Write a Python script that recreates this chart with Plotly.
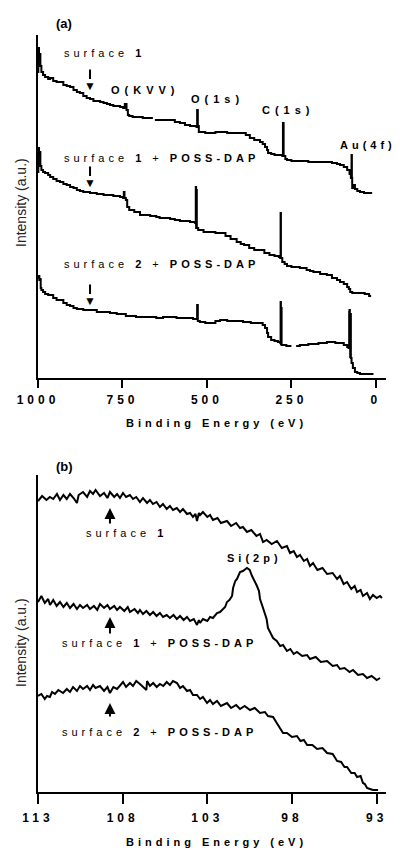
import plotly.graph_objects as go

# ---------------- Panel (a): survey spectra ----------------
a_s1_be = [1000, 999, 997, 995, 993, 990, 985, 979, 970, 964, 955, 945, 935, 925, 915, 905, 895, 885, 876, 866,
           856, 846, 836, 826, 816, 806, 796, 787, 777, 767, 757, 748, 743, 738, 734, 730, 720, 710, 698, 690,
           680, 668, 660, 657, 654, 640, 625, 609, 595, 580, 565, 550, 541, 531, 529, 527, 524, 505, 491, 475,
           461, 440, 420, 393, 385, 373, 360, 343, 335, 328, 322, 319, 310, 300, 290, 277, 275, 273, 268, 263,
           250, 225, 200, 180, 160, 145, 130, 115, 106, 95, 85, 78, 74, 72, 71, 70, 66, 62, 55, 47, 35, 20, 11]
a_s1_int = [306, 330, 320, 324, 312, 306, 303, 301, 299, 300, 297, 296, 296, 293, 292, 291, 288, 286, 285, 282,
            280, 279, 277, 277, 276, 275, 274, 273, 272, 272, 271, 270, 274, 268, 263, 262, 261, 261, 261, 260,
            260, 260, 260, None, 258, 258, 258, 258, 256, 255, 253, 252, 252, 251, 268, 252, 246, 245, 245, 246,
            246, 245, 245, 245, 243, 240, 238, 236, 234, 231, 228, 225, 224, 223, 223, 222, 255, 222, 219, 218,
            217, 217, 216, 216, 216, 216, 215, 214, 213, 211, 208, 204, 200, 223, 200, 190, 193, 189, 187, 186, 185, 185, 185]

a_s1p_be = [1000, 999, 997, 995, 993, 990, 985, 979, 970, 964, 955, 945, 935, 925, 915, 905, 895, 885, 876, 866,
            856, 846, 836, 826, 816, 806, 796, 787, 777, 767, 757, 748, 746, 744, 740, 736, 730, 715, 698, 685,
            668, 650, 640, 625, 609, 595, 580, 565, 550, 541, 535, 533, 532, 531, 530, 526, 510, 491, 475, 461,
            445, 430, 412, 400, 390, 375, 360, 343, 330, 315, 300, 287, 283, 282, 281, 277, 270, 263, 250, 240,
            225, 205, 195, 185, 165, 145, 130, 115, 106, 95, 85, 80, 76, 70, 60, 45, 33, 26, 20, 17]
a_s1p_int = [206, 230, 222, 226, 212, 208, 206, 205, 203, 201, 199, 197, 196, 194, 193, 191, 190, 188, 187, 186,
             186, 185, 185, 184, 184, 183, 183, 183, 182, 182, 181, 180, 186, 180, 178, 171, 168, 166, 163, 163,
             162, 161, 160, 160, 159, 158, 157, 157, 156, 156, 155, 191, 150, 188, 150, 148, 146, 146, 145, 145,
             142, 139, 136, 134, 133, 130, 128, 128, 125, 123, 122, 121, 120, 165, 120, 116, 114, 112, 111, 111,
             110, 108, 107, 106, 104, 103, 100, 98, 96, 94, 91, 89, 86, 85, 85, 85, 84, 84, 82, 81]

a_s2p_be = [1000, 998, 996, 994, 992, 990, 985, 979, 970, 964, 955, 945, 935, 925, 915, 905, 895, 885, 876, 866,
            846, 826, 806, 787, 767, 757, 740, 728, 710, 698, 680, 668, 650, 630, 609, 590, 570, 550, 541, 531,
            529, 527, 521, 505, 491, 475, 461, 440, 420, 393, 370, 343, 335, 328, 322, 319, 310, 300, 290, 283,
            282, 281, 280, 279, 275, 265, 255, 250, 243, 236, 225, 200, 170, 145, 120, 106, 95, 85, 81, 79,
            78, 77, 76, 75, 74, 72, 68, 62, 55, 47, 30, 10]
a_s2p_int = [100, 102, 98, 99, 90, 88, 86, 84, 83, 83, 80, 78, 78, 75, 73, 72, 70, 69, 69, 68,
             68, 66, 66, 65, 64, 64, 62, 62, 61, 61, 61, 61, 60, 61, 61, 60, 60, 60, 59, 59,
             73, 57, 56, 55, 55, 57, 58, 57, 57, 56, 55, 55, 53, 50, 45, 41, 38, 37, 36, 35,
             76, 34, 70, 33, 33, 32, 32, 32, None, 32, 33, 34, 35, 36, 35, 35, 33, 31, 30, 66,
             68, 40, 21, 64, 20, 15, 10, 6, 5, 4, 4, 3]

a_ticks = [1000, 750, 500, 250, 0]

# ---------------- Panel (b): Si(2p) region ----------------
b_s1_be = [113.0, 112.76, 112.5, 112.3, 112.1, 111.88, 111.7, 111.5, 111.3, 111.11, 110.9, 110.7, 110.6, 110.34,
           110.1, 109.93, 109.75, 109.6, 109.34, 109.1, 108.9, 108.75, 108.5, 108.33, 108.16, 107.98, 107.8,
           107.57, 107.39, 107.2, 106.98, 106.8, 106.56, 106.39, 106.21, 106.0, 105.8, 105.62, 105.4, 105.21,
           105.03, 104.8, 104.61, 104.44, 104.2, 104.02, 103.85, 103.7, 103.61, 103.5, 103.43, 103.26, 103.0,
           102.84, 102.67, 102.4, 102.2, 101.84, 101.6, 101.3, 101.07, 100.9, 100.66, 100.4, 100.1, 99.89, 99.71,
           99.5, 99.2, 98.89, 98.6, 98.3, 98.12, 97.9, 97.71, 97.53, 97.3, 97.11, 96.94, 96.76, 96.5, 96.2,
           95.93, 95.6, 95.34, 95.17, 94.95, 94.75, 94.5, 94.3, 94.16, 93.95, 93.81, 93.57, 93.4, 93.22, 93.0,
           92.8, 92.69]
b_s1_int = [291, 296, 292, 295, 293, 298, 292, 297, 293, 298, 294, 289, 297, 300,
            295, 301, 298, 302, 296, 299, 294, 300, 295, 298, 294, 299, 295,
            297, 293, 295, 290, 294, 289, 292, 288, 290, 285, 288, 283, 286,
            282, 284, 280, 283, 278, 279, 275, 278, 271, 279, 277, 280, 275,
            277, 272, 274, 269, 271, 266, 269, 264, 265, 260, 262, 256, 258, 250,
            252, 248, 251, 244, 246, 239, 241, 235, 237, 231, 233, 226, 229, 222, 224,
            218, 219, 213, 216, 208, 210, 203, 206, 200, 202, 196, 199, 193, 197, 194,
            196, 194]

b_s1p_be = [113.0, 112.8, 112.6, 112.4, 112.29, 112.1, 111.9, 111.7, 111.5, 111.3, 111.11, 110.9, 110.7, 110.52,
            110.34, 110.1, 109.93, 109.7, 109.5, 109.34, 109.1, 108.9, 108.75, 108.5, 108.33, 108.16, 107.9,
            107.7, 107.57, 107.3, 107.1, 106.98, 106.8, 106.6, 106.39, 106.2, 106.0, 105.8, 105.62, 105.4,
            105.21, 105.0, 104.8, 104.61, 104.4, 104.2, 104.02, 103.8, 103.61, 103.5, 103.43, 103.26, 103.0,
            102.84, 102.67, 102.43, 102.25, 102.08, 101.95, 101.84, 101.7, 101.54, 101.48, 101.35, 101.25,
            101.07, 100.9, 100.66, 100.5, 100.36, 100.2, 100.07, 99.95, 99.89, 99.75, 99.6, 99.5, 99.42, 99.3,
            99.12, 98.9, 98.7, 98.53, 98.3, 98.1, 97.9, 97.71, 97.4, 97.11, 96.94, 96.6, 96.3, 95.93, 95.6,
            95.34, 95.17, 94.9, 94.6, 94.4, 94.1, 93.81, 93.57, 93.3, 93.0, 92.8]
b_s1p_int = [190, 196, 189, 193, 187, 192, 186, 190, 185, 189, 184, 188, 183, 187,
             184, 187, 183, 186, 182, 188, 184, 187, 183, 186, 182, 185, 181,
             185, 180, 183, 179, 182, 178, 181, 177, 180, 176, 179, 175, 177,
             174, 177, 173, 176, 172, 175, 171, 173, 167, 172, 169, 173, 171,
             175, 174, 179, 180, 183, 185, 190, 192, 196, 204, 211, 213,
             220, 221, 224, 222, 216, 211, 206, 201, 193, 186, 178, 173, 164, 160,
             154, 151, 146, 147, 141, 143, 138, 140, 136, 137, 133, 135, 130, 131, 126,
             127, 123, 124, 120, 122, 117, 118, 114, 116, 112, 114]

b_s2p_be = [113.0, 112.8, 112.6, 112.47, 112.3, 112.17, 112.0, 111.8, 111.52, 111.3, 111.11, 110.93, 110.7,
            110.52, 110.34, 110.1, 109.93, 109.75, 109.6, 109.34, 109.1, 108.9, 108.75, 108.55, 108.33, 108.16,
            107.98, 107.8, 107.57, 107.39, 107.2, 106.98, 106.8, 106.6, 106.56, 106.39, 106.2, 105.99, 105.8,
            105.6, 105.4, 105.21, 105.03, 104.79, 104.61, 104.44, 104.2, 104.02, 103.85, 103.61, 103.43, 103.26,
            103.02, 102.84, 102.67, 102.43, 102.2, 101.84, 101.6, 101.3, 101.07, 100.8, 100.48, 100.2, 99.89,
            99.6, 99.42, 99.12, 98.9, 98.7, 98.53, 98.3, 98.0, 97.71, 97.5, 97.3, 97.11, 96.8, 96.52, 96.2,
            95.93, 95.6, 95.34, 95.1, 94.9, 94.75, 94.5, 94.3, 94.16, 93.95, 93.81, 93.7, 93.57, 93.4, 93.22,
            92.92]
b_s2p_int = [96, 98, 93, 96, 95, 100, 98, 102, 99, 103, 100, 105, 101,
             106, 103, 106, 102, 107, 104, 106, 101, 105, 99, 105, 103, 107,
             110, 105, 109, 106, 111, 108, 105, 102, 111, 106, 109, 105, 108,
             106, 110, 107, 111, 109, 104, 106, 101, 102, 97, 97, 93, 95,
             89, 92, 88, 91, 86, 89, 84, 87, 83, 86, 82, 84, 79,
             80, 76, 75, 69, 64, 59, 59, 55, 56, 51, 52, 47, 47, 43, 44,
             39, 38, 31, 30, 25, 25, 19, 19, 15, 16, 9, 8, 4, 3, 2,
             2]

b_ticks = [113, 108, 103, 98, 93]

FONT = "Liberation Sans, Arial, sans-serif"
LINE_A = dict(color="black", width=2, shape="hv")
LINE_B = dict(color="black", width=2, shape="linear")
W, H = 401, 849
OFF = 8  # page body margin in the browser


def fx(px):
    return (px - OFF) / W


def fy(py):
    return 1 - (py - OFF) / H


def ls(text, px):
    return f"<span style='letter-spacing:{px}px'>{text}</span>"


fig = go.Figure()
for xs, ys in [(a_s1_be, a_s1_int), (a_s1p_be, a_s1p_int), (a_s2p_be, a_s2p_int)]:
    fig.add_trace(go.Scatter(x=xs, y=ys, mode="lines", line=LINE_A, connectgaps=False,
                             showlegend=False, xaxis="x", yaxis="y", hoverinfo="skip"))
for xs, ys in [(b_s1_be, b_s1_int), (b_s1p_be, b_s1p_int), (b_s2p_be, b_s2p_int)]:
    fig.add_trace(go.Scatter(x=xs, y=ys, mode="lines", line=LINE_B, connectgaps=False,
                             showlegend=False, xaxis="x2", yaxis="y2", hoverinfo="skip"))

xdom = [fx(38), fx(386)]
axis_common = dict(showgrid=False, zeroline=False, showline=True, linecolor="black", linewidth=2,
                   ticks="outside", tickwidth=2, tickcolor="black", automargin=False,
                   tickfont=dict(family=FONT, size=12, color="black"))
yaxis_common = dict(showticklabels=False, showgrid=False, zeroline=False, showline=True,
                    linecolor="black", linewidth=2, ticks="", automargin=False)

fig.update_layout(
    width=W, height=H, margin=dict(l=0, r=0, t=0, b=0, autoexpand=False),
    paper_bgcolor="white", plot_bgcolor="white",
    xaxis=dict(domain=xdom, range=[1000, -30], anchor="y", tickvals=a_ticks,
               ticktext=[ls(f"<b>{t}</b>", 4) for t in a_ticks], ticklen=8,
               ticklabelstandoff=2, **axis_common),
    yaxis=dict(domain=[fy(378), fy(35)], range=[0, 343], anchor="x", **yaxis_common),
    xaxis2=dict(domain=xdom, range=[113, 92.45], anchor="y2", tickvals=b_ticks,
                ticktext=[ls(f"<b>{t}</b>", 4) for t in b_ticks], ticklen=10,
                ticklabelstandoff=4, **axis_common),
    yaxis2=dict(domain=[fy(792), fy(475)], range=[0, 317], anchor="x2", **yaxis_common),
)

ann = []


def text(x, y, t, size=11, xanchor="center", xref="x", yref="y", angle=0, color="black"):
    ann.append(dict(x=x, y=y, xref=xref, yref=yref, text=t, showarrow=False, xanchor=xanchor,
                    yanchor="middle", textangle=angle, font=dict(family=FONT, size=size, color=color)))


# panel labels and axis titles
text(fx(54), fy(23), "<b>(a)</b>", size=13, xref="paper", yref="paper", xanchor="left")
text(fx(54), fy(467), "<b>(b)</b>", size=13, xref="paper", yref="paper", xanchor="left")
text(fx(216), fy(423), ls("<b>Binding Energy (eV)</b>", 4), xref="paper", yref="paper")
text(fx(216), fy(841.5), ls("<b>Binding Energy (eV)</b>", 4), xref="paper", yref="paper")
text(fx(21), fy(203), "Intensity (a.u.)", size=14, xref="paper", yref="paper", angle=-90, color="#222")
text(fx(21), fy(643), "Intensity (a.u.)", size=14, xref="paper", yref="paper", angle=-90, color="#222")

# panel (a) labels
text(929, 325, ls("surface <b>1</b>", 4), xanchor="left")
text(929, 220, ls("surface <b>1</b> + <b>POSS-DAP</b>", 4), xanchor="left")
text(929, 114, ls("surface <b>2</b> + <b>POSS-DAP</b>", 4), xanchor="left")
text(683, 288, ls("<b>O(KVV)</b>", 5))
text(468, 279, ls("<b>O(1s)</b>", 5))
text(258, 268, ls("<b>C(1s)</b>", 5))
text(22, 233, ls("<b>Au(4f)</b>", 4))
for top, bot, tri in [(310, 299, 292), (213, 202, 195), (95, 84, 77)]:
    ann.append(dict(x=846, y=bot, ax=846, ay=top, xref="x", yref="y", axref="x", ayref="y",
                    text="", showarrow=True, arrowhead=0, arrowwidth=2, arrowcolor="black"))
    text(846, tri, "▼", size=12)

# panel (b) labels
text(107.8, 259, ls("surface <b>1</b>", 4), xref="x2", yref="y2")
text(111.7, 149, ls("surface <b>1</b> + <b>POSS-DAP</b>", 4), xref="x2", yref="y2", xanchor="left")
text(111.7, 60, ls("surface <b>2</b> + <b>POSS-DAP</b>", 4), xref="x2", yref="y2", xanchor="left")
text(100.24, 234, ls("<b>Si(2p)</b>", 4), xref="x2", yref="y2")
for tip, tail in [(284, 267), (175, 157), (89, 74)]:
    ann.append(dict(x=108.75, y=tip, ax=108.75, ay=tail, xref="x2", yref="y2", axref="x2", ayref="y2",
                    text="", showarrow=True, arrowhead=2, arrowsize=1.1, arrowwidth=2, arrowcolor="black"))

fig.update_layout(annotations=ann)
fig.write_html("out.html")
